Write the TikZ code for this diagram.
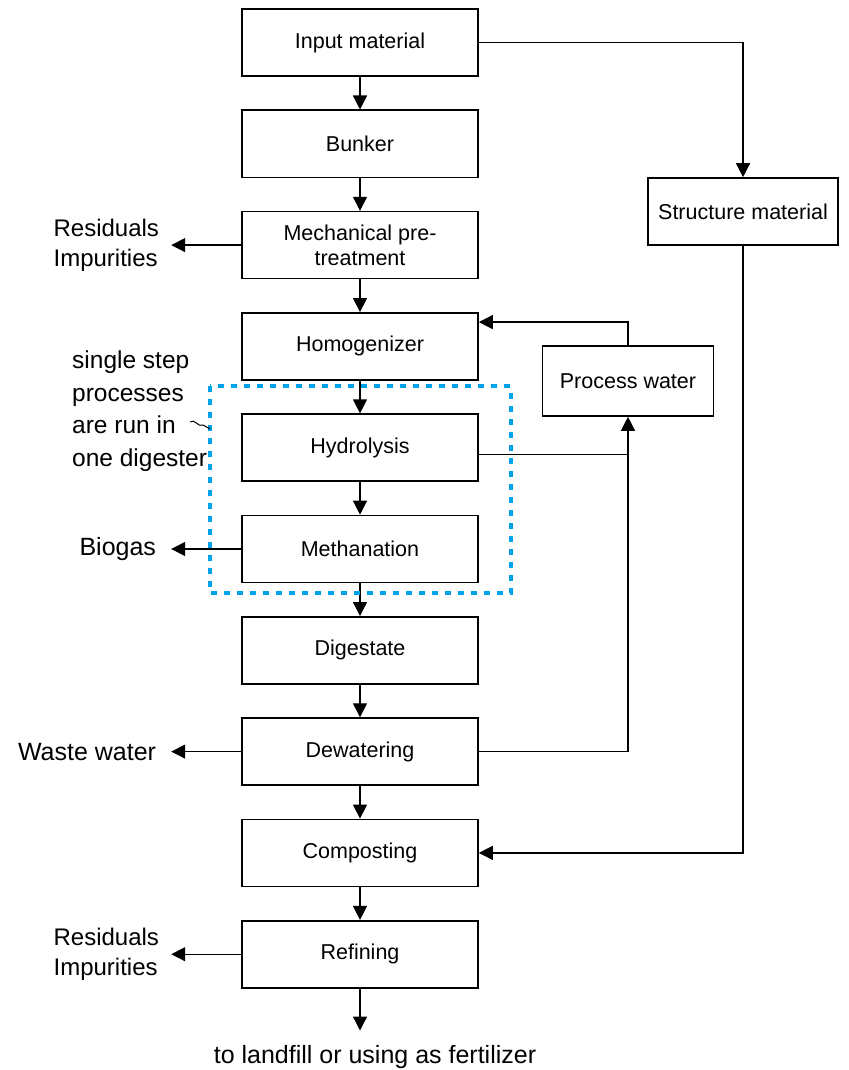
\documentclass[tikz,border=0pt]{standalone}
\usepackage{fontspec}
\setmainfont{Liberation Sans}
\usetikzlibrary{arrows.meta, positioning, calc}
\definecolor{colDigest}{HTML}{00A2E8}
\tikzset{
  % Process step boxes (main column)
  stepbox/.style={
    draw, line width=1.6pt,
    align=center, inner sep=2pt,
    minimum width=236pt, minimum height=67pt,
    font=\fontsize{21.5}{25}\selectfont,
  },
  % Side boxes (structure material, process water)
  sidebox/.style={stepbox, minimum width=190pt},
  % Outputs on the left
  outlbl/.style={
    align=left, inner sep=12pt,
    font=\fontsize{25}{30}\selectfont,
  },
  % Arrows
  arr/.style={-{Triangle[length=14pt,width=14pt]}, line width=1.3pt},
  link/.style={line width=1.3pt},
  % Dotted digester frame
  digester/.style={draw=colDigest, line width=4pt, dash pattern=on 6pt off 7pt},
}

\begin{document}
\begin{tikzpicture}[x=1pt, y=-1pt]

\useasboundingbox (0,0) rectangle (848,1070);

%% ═══════════════════════════════════════════════════════════════════════════
%% MAIN COLUMN – process steps
%% ═══════════════════════════════════════════════════════════════════════════

\node[stepbox] (input) at (360,42.5) {Input material};
\node[stepbox, below=32.7pt of input]   (bunker)  {Bunker};
\node[stepbox, below=32.7pt of bunker]  (mech)    {Mechanical pre-\\treatment};
\node[stepbox, below=32.7pt of mech]    (homog)   {Homogenizer};
\node[stepbox, below=32.7pt of homog]   (hydro)   {Hydrolysis};
\node[stepbox, below=32.7pt of hydro]   (methan)  {Methanation};
\node[stepbox, below=32.7pt of methan]  (digest)  {Digestate};
\node[stepbox, below=32.7pt of digest]  (dewater) {Dewatering};
\node[stepbox, below=32.7pt of dewater] (compost) {Composting};
\node[stepbox, below=32.7pt of compost] (refine)  {Refining};

\draw[arr] (input)   -- (bunker);
\draw[arr] (bunker)  -- (mech);
\draw[arr] (mech)    -- (homog);
\draw[arr] (homog)   -- (hydro);
\draw[arr] (hydro)   -- (methan);
\draw[arr] (methan)  -- (digest);
\draw[arr] (digest)  -- (dewater);
\draw[arr] (dewater) -- (compost);
\draw[arr] (compost) -- (refine);

% Final destination below refining
\coordinate (tail) at ($(refine.south)+(0,42)$);
\draw[arr] (refine.south) -- (tail);
\node[outlbl, inner sep=4pt] (final) at (375,1057) {to landfill or using as fertilizer};

%% ═══════════════════════════════════════════════════════════════════════════
%% RIGHT SIDE – structure material and process water loops
%% ═══════════════════════════════════════════════════════════════════════════

\node[sidebox] (struct) at (743,211.5) {Structure material};
\node[sidebox, minimum width=171pt, minimum height=70pt] (pwater) at (628,381) {Process water};

\draw[arr] (input.east) -| (struct.north);
\draw[arr] (struct.south) |- (compost.east);

\draw[arr] (pwater.north) |- ($(homog.north east)+(0,10)$);
\coordinate (hydroOut) at ($(hydro.east)+(0,7)$);
\draw[link] (hydroOut) -- (hydroOut -| pwater.south);
\draw[arr] (dewater.east) -| (pwater.south);

%% ═══════════════════════════════════════════════════════════════════════════
%% LEFT SIDE – outputs
%% ═══════════════════════════════════════════════════════════════════════════

\node[outlbl, left=70pt of mech, font=\fontsize{24}{30}\selectfont]   (resid1) {Residuals\\Impurities};
\node[outlbl, left=70pt of methan, inner xsep=15pt]  (biogas) {Biogas};
\node[outlbl, left=70pt of dewater, inner xsep=15pt] (waste)  {Waste water};
\node[outlbl, left=70pt of refine, font=\fontsize{24}{30}\selectfont]  (resid2) {Residuals\\Impurities};

\draw[arr] (mech.west)    -- (resid1.east);
\draw[arr] (methan.west)  -- (biogas.east);
\draw[arr] (dewater.west) -- (waste.east);
\draw[arr] (refine.west)  -- (resid2.east);

%% ═══════════════════════════════════════════════════════════════════════════
%% DIGESTER FRAME – hydrolysis + methanation in one vessel
%% ═══════════════════════════════════════════════════════════════════════════

\coordinate (frameNW) at ($(hydro.north west)+(-31,-27)$);
\coordinate (frameSE) at ($(methan.south east)+(32,10)$);
\draw[digester] (frameNW) rectangle (frameSE);

\node[outlbl, inner sep=0pt, anchor=north west,
      font=\fontsize{24.5}{32.5}\selectfont] (note) at (72,351)
  {single step\\processes\\are run in\\one digester};

\coordinate (squig) at (190,422);
\draw[line width=1pt] (squig) .. controls (195,418) and (198,428) .. (203,425)
  -- (frameNW |- 0,429);

\end{tikzpicture}
\end{document}
